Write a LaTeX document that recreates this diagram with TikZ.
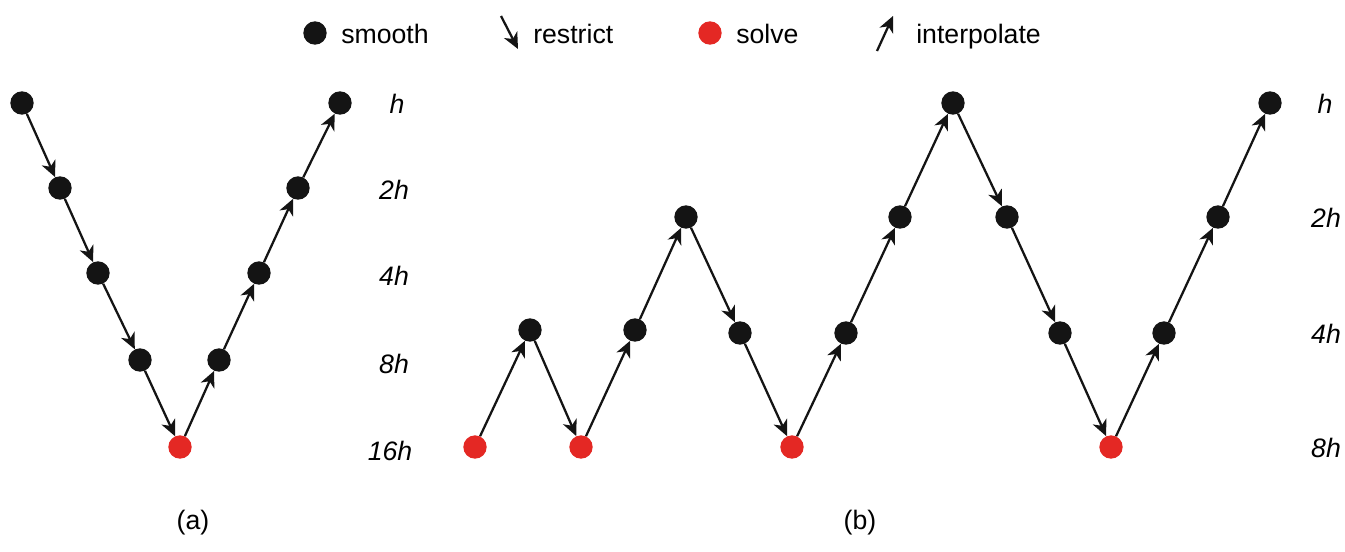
\documentclass[tikz,border=0pt]{standalone}
\usepackage{fontspec}
\setmainfont{Liberation Sans}
\usetikzlibrary{arrows.meta}
\definecolor{dotred}{RGB}{228,40,36}
\definecolor{dotblack}{RGB}{20,20,20}
\begin{document}
\begin{tikzpicture}[x=0.75pt,y=-0.75pt,
  sm/.style={circle,fill=dotblack,inner sep=0pt,minimum size=17.5pt},
  sv/.style={circle,fill=dotred,inner sep=0pt,minimum size=17.5pt},
  arr/.style={line width=1.7pt,draw=dotblack,-{Stealth[length=12pt,width=11pt,inset=3.5pt]}},
  lvl/.style={font=\fontsize{20}{24}\selectfont\itshape,anchor=base},
  txt/.style={font=\fontsize{20}{24}\selectfont,anchor=base west,inner sep=0pt}]
\useasboundingbox[fill=white] (0,0) rectangle (1345,551);
% legend
\node[sm] (l1) at (315,33) {};
\node[txt] (t1) at (341,43) {smooth};
\coordinate (r0) at (501,16);
\coordinate (r1) at (518,49);
\draw[arr] (r0) -- (r1);
\node[txt] (t2) at (533,43) {restrict};
\node[sv] (l3) at (710,33) {};
\node[txt] (t3) at (736,43) {solve};
\coordinate (i0) at (877,51);
\coordinate (i1) at (893,16);
\draw[arr] (i0) -- (i1);
\node[txt] (t4) at (916,43) {interpolate};
% (a)
\node[sm] (a1) at (22,103) {};
\node[sm] (a2) at (60,188) {};
\node[sm] (a3) at (98,273) {};
\node[sm] (a4) at (140,360) {};
\node[sv] (a5) at (180,447) {};
\node[sm] (a6) at (219,360) {};
\node[sm] (a7) at (259,273) {};
\node[sm] (a8) at (298,188) {};
\node[sm] (a9) at (340,103) {};
\draw[arr] (a1) -- (a2);
\draw[arr] (a2) -- (a3);
\draw[arr] (a3) -- (a4);
\draw[arr] (a4) -- (a5);
\draw[arr] (a5) -- (a6);
\draw[arr] (a6) -- (a7);
\draw[arr] (a7) -- (a8);
\draw[arr] (a8) -- (a9);
\node[lvl] (ha1) at (397,113) {h};
\node[lvl] (ha2) at (394,199) {2h};
\node[lvl] (ha3) at (394,285) {4h};
\node[lvl] (ha4) at (394,373) {8h};
\node[lvl] (ha5) at (390,460) {16h};
% (b)
\node[sv] (b1) at (475,447) {};
\node[sm] (b2) at (530,330) {};
\node[sv] (b3) at (581,447) {};
\node[sm] (b4) at (635,330) {};
\node[sm] (b5) at (686,217) {};
\node[sm] (b6) at (740,333) {};
\node[sv] (b7) at (792,447) {};
\node[sm] (b8) at (846,333) {};
\node[sm] (b9) at (900,217) {};
\node[sm] (b10) at (953,103) {};
\node[sm] (b11) at (1007,217) {};
\node[sm] (b12) at (1060,333) {};
\node[sv] (b13) at (1111,447) {};
\node[sm] (b14) at (1164,333) {};
\node[sm] (b15) at (1218,217) {};
\node[sm] (b16) at (1270,103) {};
\draw[arr] (b1) -- (b2);
\draw[arr] (b2) -- (b3);
\draw[arr] (b3) -- (b4);
\draw[arr] (b4) -- (b5);
\draw[arr] (b5) -- (b6);
\draw[arr] (b6) -- (b7);
\draw[arr] (b7) -- (b8);
\draw[arr] (b8) -- (b9);
\draw[arr] (b9) -- (b10);
\draw[arr] (b10) -- (b11);
\draw[arr] (b11) -- (b12);
\draw[arr] (b12) -- (b13);
\draw[arr] (b13) -- (b14);
\draw[arr] (b14) -- (b15);
\draw[arr] (b15) -- (b16);
\node[lvl] (hb1) at (1325,113) {h};
\node[lvl] (hb2) at (1326,227) {2h};
\node[lvl] (hb3) at (1326,343) {4h};
\node[lvl] (hb4) at (1326,457) {8h};
% captions
\node[font=\fontsize{20}{24}\selectfont,anchor=base] (ca) at (193,529) {(a)};
\node[font=\fontsize{20}{24}\selectfont,anchor=base] (cb) at (860,529) {(b)};
\end{tikzpicture}
\end{document}
